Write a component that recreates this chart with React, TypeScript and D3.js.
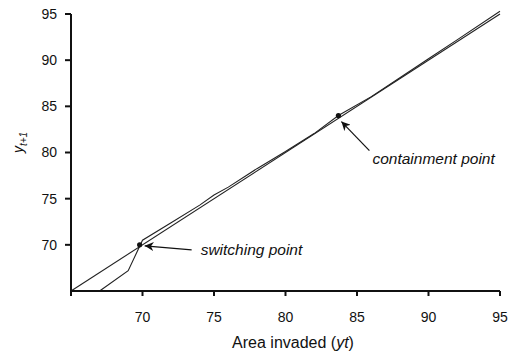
import React from 'react';
import * as d3 from 'd3';

// diagonal reference line y(t+1) = y(t)
const diagX = [65, 95];
const diagY = [65, 95];

// model trajectory
const pathX = [67, 69, 70, 72, 74, 75, 76, 78, 80, 82, 83.7, 86, 88, 90, 92, 95];
const pathY = [65, 67.2, 70.5, 72.4, 74.3, 75.4, 76.25, 78.25, 80.1, 82.05, 84.0, 86.05, 88.1, 90.15, 92.2, 95.3];

const ticks = [70, 75, 80, 85, 90, 95];
const yTicks = [70, 75, 80, 85, 90, 95];

const points = [
  { name: 'switching point', x: 69.8, y: 70 },
  { name: 'containment point', x: 83.7, y: 84 },
];

const W = 519;
const H = 355;
const margin = { top: 14, right: 19, bottom: 64, left: 71 };
const font = '"Liberation Sans", Arial, sans-serif';

export default function App() {
  const x = d3.scaleLinear().domain([65, 95]).range([margin.left, W - margin.right]);
  const y = d3.scaleLinear().domain([65, 95]).range([H - margin.bottom, margin.top]);

  const line = d3.line<[number, number]>()
    .x(d => x(d[0]))
    .y(d => y(d[1]));

  const diag = line(diagX.map((v, i) => [v, diagY[i]] as [number, number]));
  const path = line(pathX.map((v, i) => [v, pathY[i]] as [number, number]));

  const sw = points[0];
  const ct = points[1];

  return (
    <svg width={W} height={H} style={{ position: 'absolute', left: 0, top: 0 }}>
      <defs>
        <marker id="arr" viewBox="0 0 10 10" refX="10" refY="5" markerWidth="9" markerHeight="9"
          orient="auto" markerUnits="userSpaceOnUse">
          <path d="M0,0 L10,5 L0,10 L3,5 Z" fill="#111" />
        </marker>
      </defs>
      <rect width={W} height={H} fill="#fff" />

      <path d={diag ?? ''} fill="none" stroke="#222" strokeWidth={1.1} />
      <path d={path ?? ''} fill="none" stroke="#222" strokeWidth={1.1} />

      {points.map(p => (
        <circle key={p.name} cx={x(p.x)} cy={y(p.y)} r={2.6} fill="#111" />
      ))}

      {/* annotations */}
      <line x1={x(sw.x) + 52} y1={y(sw.y) + 5} x2={x(sw.x) + 5} y2={y(sw.y) + 1}
        stroke="#111" strokeWidth={1.2} markerEnd="url(#arr)" />
      <text x={x(sw.x) + 61} y={y(sw.y) + 10} fontFamily={font} fontSize={15.5} fontStyle="italic" fill="#111">
        {sw.name}
      </text>
      <line x1={x(ct.x) + 31} y1={y(ct.y) + 35} x2={x(ct.x) + 3} y2={y(ct.y) + 6}
        stroke="#111" strokeWidth={1.2} markerEnd="url(#arr)" />
      <text x={x(ct.x) + 34} y={y(ct.y) + 48} fontFamily={font} fontSize={15.5} fontStyle="italic" fill="#111">
        {ct.name}
      </text>

      {/* axes */}
      <line x1={x(65)} x2={x(95)} y1={y(65)} y2={y(65)} stroke="#111" strokeWidth={2} />
      <line x1={x(65)} x2={x(65)} y1={y(65)} y2={y(95)} stroke="#111" strokeWidth={2} />
      {[65, ...ticks].map(t => (
        <line key={'xt' + t} x1={x(t)} x2={x(t)} y1={y(65)} y2={y(65) + 5} stroke="#111" strokeWidth={2} />
      ))}
      {ticks.map(t => (
        <text key={'xl' + t} x={x(t)} y={y(65) + 31} textAnchor="middle" fontFamily={font} fontSize={14} fill="#111">
          {t}
        </text>
      ))}
      {yTicks.map(t => (
        <g key={'yt' + t}>
          <line x1={x(65) - 6} x2={x(65)} y1={y(t)} y2={y(t)} stroke="#111" strokeWidth={2} />
          <text x={x(65) - 14} y={y(t)} dy="0.35em" textAnchor="end" fontFamily={font} fontSize={14} fill="#111">
            {t}
          </text>
        </g>
      ))}

      <text x={293} y={H - 7} textAnchor="middle" fontFamily={font} fontSize={16} fill="#111">
        Area invaded (<tspan fontStyle="italic">yt</tspan>)
      </text>
      <text transform={`translate(23,${(y(65) + y(95)) / 2 - 10}) rotate(-90)`} textAnchor="middle"
        fontFamily={font} fontSize={14} fill="#111">
        <tspan fontStyle="italic">y</tspan>
        <tspan fontSize={10} dy={4} fontStyle="italic">t+1</tspan>
      </text>
    </svg>
  );
}
